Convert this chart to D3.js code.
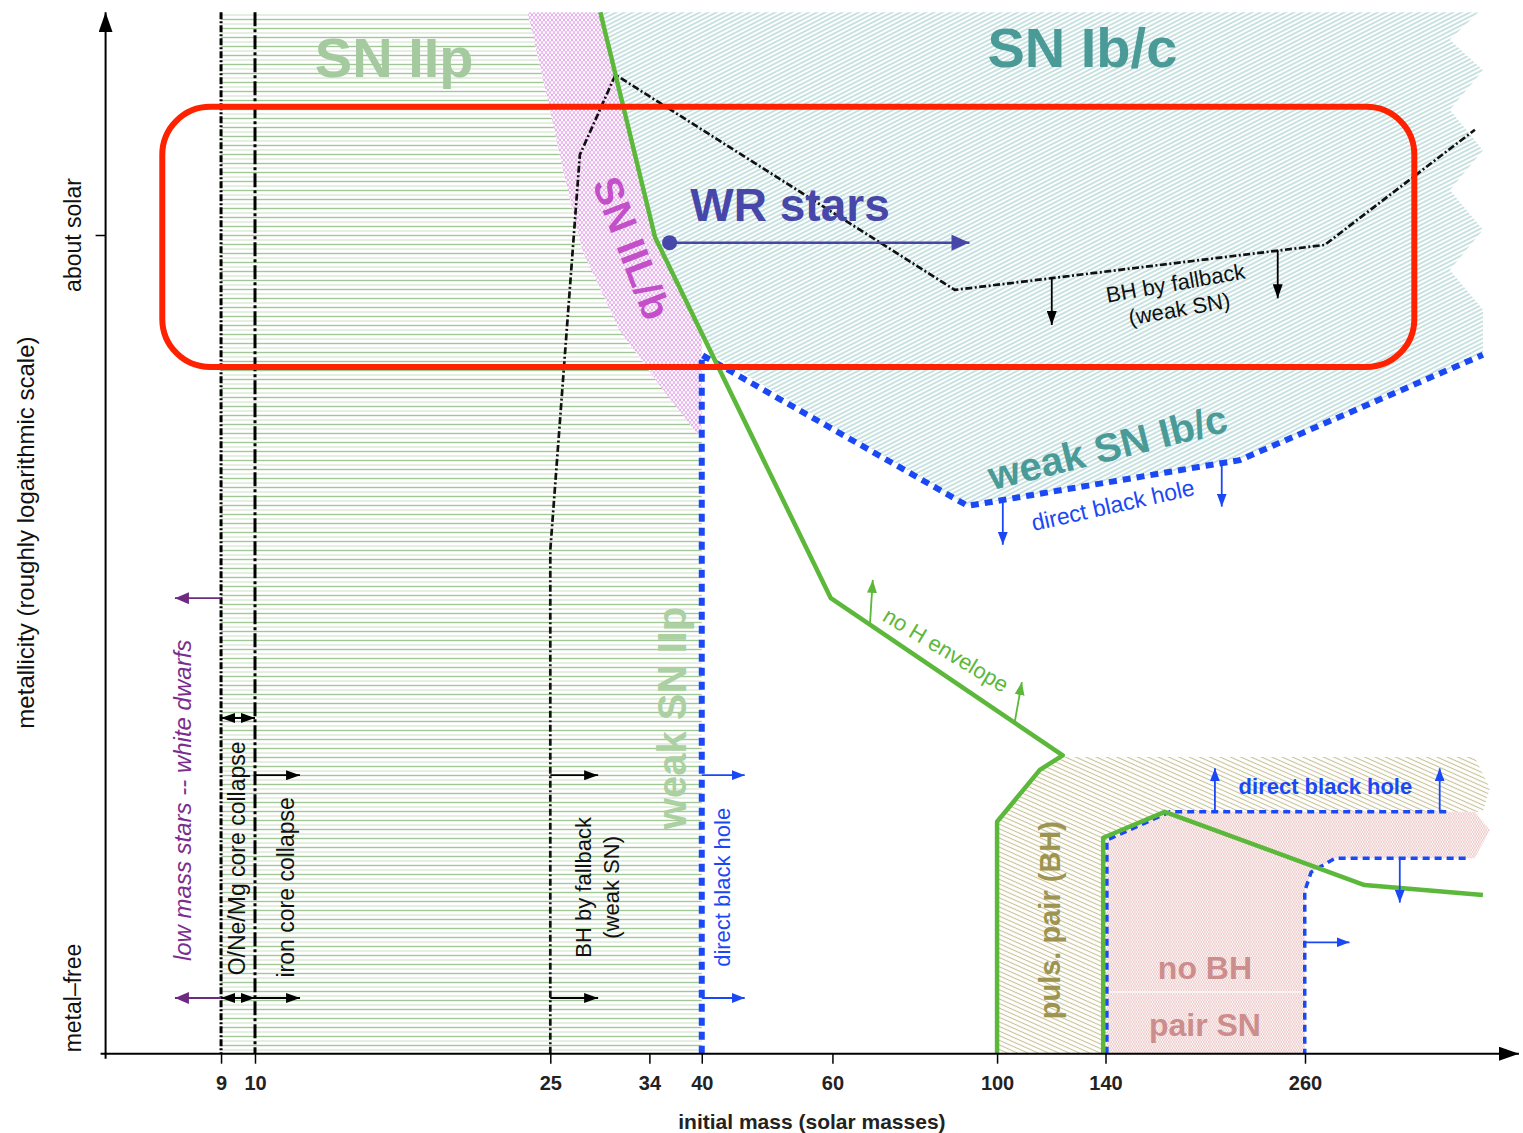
<!DOCTYPE html>
<html>
<head>
<meta charset="utf-8">
<script src="https://cdn.jsdelivr.net/npm/d3@7"></script>
<style>
  body { margin: 0; background: #fff; }
  svg { display: block; font-family: "Liberation Sans", Arial, Helvetica, sans-serif; }
</style>
</head>
<body>
<svg id="chart"></svg>
<script>
const width = 1523, height = 1133;

// x axis: initial mass (solar masses)
const massTicks = [9, 10, 25, 34, 40, 60, 100, 140, 260];
// y axis: metallicity index, 0 = metal-free, 1 = about solar
const metalTicks = [0, 1];
const metalLabels = ["metal\u2013free", "about solar"];
const zTop = 1.292, zAxis = -0.073, massAxis = 6.29, massEnd = 505;

// boundaries, [mass, metallicity]
const coreLines = [9, 10];
const noHEnvelope = [[29.2, 1.292], [34.6, 0.997], [59.7, 0.524], [122.6, 0.318], [114.2, 0.299], [100, 0.231], [100, zAxis]];
const pairLimit = [[139, zAxis], [139, 0.21], [168.3, 0.244], [312.7, 0.148], [451.6, 0.135]];
const fallbackLine = [[25, zAxis], [25, 0.587], [27.4, 1.105], [30.6, 1.21], [87.7, 0.928], [276.4, 0.987], [440.5, 1.138]];
const directBH = [[40, zAxis], [40, 0.843], [91.3, 0.645], [212.3, 0.705], [451.6, 0.843]];
const pairBHtop = [[140.6, zAxis], [140.6, 0.207], [171, 0.244], [407.5, 0.244]];
const pairBHlow = [[428, 0.183], [285.1, 0.183], [265, 0.165], [259.8, 0.14], [259.8, zAxis]];

// regions
const snIIpRegion = [[9, 1.292], [23.3, 1.292], [24.8, 1.177], [26.2, 1.072], [27.6, 0.98], [31.0, 0.875], [35.1, 0.803], [39.4, 0.74], [40, 0.74], [40, zAxis], [9, zAxis]];
const snIILbRegion = [[23.3, 1.292], [29.2, 1.292], [34.6, 0.997], [40, 0.872], [40, 0.74], [39.4, 0.74], [35.1, 0.803], [31.0, 0.875], [27.6, 0.98], [26.2, 1.072], [24.8, 1.177]];
const snIbcRegion = [[29.2, 1.292], [445, 1.292], [407.5, 1.256], [451.6, 1.216], [407.5, 1.164], [451.6, 1.111], [407.5, 1.059], [451.6, 1.007], [407.5, 0.954], [451.6, 0.902], [451.6, 0.843], [212.3, 0.705], [91.3, 0.645], [41.3, 0.843], [34.6, 0.997]];
const pulsPairRegion = [[100, zAxis], [100, 0.231], [114.2, 0.299], [122.6, 0.316], [440, 0.316], [461.5, 0.275], [451.6, 0.244], [171, 0.244], [140.6, 0.207], [140.6, zAxis]];
const pairSNRegion = [[140.6, zAxis], [140.6, 0.207], [171, 0.244], [440, 0.244], [461.5, 0.22], [440, 0.183], [285.1, 0.183], [265, 0.165], [259.8, 0.14], [259.8, zAxis]];

// arrows, [mass1, Z1, mass2, Z2]
const blackArrows = [[10, 0, 11.5, 0], [10, 0.292, 11.5, 0.292], [25, 0, 29, 0], [25, 0.292, 29, 0.292], [118.5, 0.944, 118.5, 0.882], [238.9, 0.98, 238.9, 0.917]];
const doubleArrows = [[9, 0.367, 10, 0.367], [9, 0, 10, 0]];
const purpleArrows = [[9, 0.524, 7.8, 0.524], [9, 0, 7.8, 0]];
const blueArrows = [[40, 0.292, 45.7, 0.292], [40, 0, 45.7, 0], [101.8, 0.653, 101.8, 0.594], [200.8, 0.7, 200.8, 0.644], [196.6, 0.244, 196.6, 0.301], [394.9, 0.244, 394.9, 0.301], [348.9, 0.183, 348.9, 0.125], [259.8, 0.073, 298.5, 0.073]];
const greenArrows = [[67.4, 0.489, 68, 0.548], [105.6, 0.361, 108, 0.414]];
const wrArrow = [[36.2, 0.99, 91.8, 0.99]];
const highlightBox = [7.5, 1.168, 365, 0.827];

const x = d3.scaleLog().domain([10, 260]).range([255, 1305]);
const y = d3.scaleLinear().domain([0, 1]).range([998, 235]);

const svg = d3.select("#chart").attr("width", width).attr("height", height);
const defs = svg.append("defs");

function linePattern(id, size, angle, color, sw) {
  const p = defs.append("pattern").attr("id", id).attr("patternUnits", "userSpaceOnUse")
    .attr("width", 10).attr("height", size).attr("patternTransform", `rotate(${angle})`);
  p.append("line").attr("x1", 0).attr("x2", 10).attr("y1", size / 2).attr("y2", size / 2)
    .attr("stroke", color).attr("stroke-width", sw);
}
function meshPattern(id, w, h, color, sw) {
  const p = defs.append("pattern").attr("id", id).attr("patternUnits", "userSpaceOnUse")
    .attr("width", w).attr("height", h);
  p.append("path").attr("d", `M0,0L${w / 2},${h}L${w},0M0,${h}L${w / 2},0L${w},${h}`)
    .attr("fill", "none").attr("stroke", color).attr("stroke-width", sw);
}
// green horizontal stripes
const gp = defs.append("pattern").attr("id", "green").attr("patternUnits", "userSpaceOnUse")
  .attr("width", 10).attr("height", 9);
gp.append("line").attr("x1", 0).attr("x2", 10).attr("y1", 1.5).attr("y2", 1.5).attr("stroke", "#a2c796").attr("stroke-width", 1.4);
gp.append("line").attr("x1", 0).attr("x2", 10).attr("y1", 6).attr("y2", 6).attr("stroke", "#cfe2c8").attr("stroke-width", 1.1);
linePattern("teal", 3.8, -27, "#9ccbc7", 1.1);
linePattern("olive", 4.2, 24, "#c8c096", 1.1);
meshPattern("pink", 8, 5, "#e3a6e8", 1);
meshPattern("rose", 5, 4, "#e9bcbc", 0.7);

function marker(id, color, len, half) {
  defs.append("marker").attr("id", id).attr("markerUnits", "userSpaceOnUse")
    .attr("viewBox", `0 ${-half} ${len} ${2 * half}`)
    .attr("markerWidth", len).attr("markerHeight", 2 * half)
    .attr("refX", len).attr("refY", 0).attr("orient", "auto-start-reverse")
    .append("path").attr("d", `M0,${-half}L${len},0L0,${half}Z`).attr("fill", color);
}
marker("mBlack", "#000", 14, 5);
marker("mPurple", "#6e2a80", 14, 6);
marker("mBlue", "#1a48f5", 13, 5);
marker("mGreen", "#5cb83a", 13, 5);
marker("mWR", "#4747a9", 18, 8);
marker("mAxis", "#000", 20, 7);

const line = d3.line().x(d => x(d[0])).y(d => y(d[1]));

// regions
[[snIIpRegion, "green"], [snIILbRegion, "pink"], [snIbcRegion, "teal"],
 [pulsPairRegion, "olive"], [pairSNRegion, "rose"]].forEach(([pts, pat]) => {
  svg.append("path").attr("d", line(pts) + "Z").attr("fill", `url(#${pat})`);
});
svg.append("line").attr("x1", x(141.5)).attr("x2", x(258)).attr("y1", y(0.008)).attr("y2", y(0.008))
  .attr("stroke", "#fff").attr("stroke-width", 1.5).attr("opacity", 0.8);

// boundary lines
svg.selectAll(".core").data(coreLines).join("line")
  .attr("x1", d => x(d)).attr("x2", d => x(d)).attr("y1", y(zTop)).attr("y2", y(zAxis))
  .attr("stroke", "#000").attr("stroke-width", 3)
  .attr("stroke-dasharray", (d, i) => i === 0 ? "7,2,2,2" : "14,3,3,3");
svg.append("path").attr("d", line(fallbackLine)).attr("fill", "none")
  .attr("stroke", "#111").attr("stroke-width", 2.7).attr("stroke-dasharray", "7,2.5,2,2.5");
svg.append("path").attr("d", line(directBH)).attr("fill", "none")
  .attr("stroke", "#1a48f5").attr("stroke-width", 6).attr("stroke-dasharray", "8,6");
[pairBHtop, pairBHlow].forEach(pts => {
  svg.append("path").attr("d", line(pts)).attr("fill", "none")
    .attr("stroke", "#1a48f5").attr("stroke-width", 3.5).attr("stroke-dasharray", "7,5");
});
[noHEnvelope, pairLimit].forEach(pts => {
  svg.append("path").attr("d", line(pts)).attr("fill", "none")
    .attr("stroke", "#5cb83a").attr("stroke-width", 4.5).attr("stroke-linejoin", "round");
});

// arrows
function arrows(data, color, mk, sw, both) {
  svg.append("g").selectAll("line").data(data).join("line")
    .attr("x1", d => x(d[0])).attr("y1", d => y(d[1]))
    .attr("x2", d => x(d[2])).attr("y2", d => y(d[3]))
    .attr("stroke", color).attr("stroke-width", sw)
    .attr("marker-end", `url(#${mk})`)
    .attr("marker-start", both ? `url(#${mk})` : null);
}
arrows(blackArrows, "#000", "mBlack", 1.8);
arrows(doubleArrows, "#000", "mBlack", 1.8, true);
arrows(purpleArrows, "#6e2a80", "mPurple", 1.8);
arrows(blueArrows, "#1a48f5", "mBlue", 1.8);
arrows(greenArrows, "#5cb83a", "mGreen", 1.8);
arrows(wrArrow, "#4747a9", "mWR", 2.5);
svg.selectAll(".wrdot").data(wrArrow).join("circle")
  .attr("cx", d => x(d[0])).attr("cy", d => y(d[1])).attr("r", 7.5).attr("fill", "#4747a9");

// labels
function label(txt, m, z, o) {
  svg.append("text")
    .attr("transform", `translate(${x(m)},${y(z)}) rotate(${o.rotate || 0})`)
    .attr("text-anchor", "middle").attr("dominant-baseline", "central")
    .attr("font-size", o.size).attr("font-weight", o.weight || "normal")
    .attr("font-style", o.style || "normal").attr("fill", o.color).text(txt);
}
label("SN IIp", 15.4, 1.232, { size: 56, weight: "bold", color: "#a6caa0" });
label("SN Ib/c", 130.3, 1.246, { size: 56, weight: "bold", color: "#4a9a98" });
label("WR stars", 52.6, 1.039, { size: 46, weight: "bold", color: "#4747a9" });
label("SN IIL/b", 32.2, 0.983, { size: 40, weight: "bold", color: "#c34fc9", rotate: 69 });
label("weak SN IIp", 36.5, 0.367, { size: 40, weight: "bold", color: "#abd0a2", rotate: -90 });
label("weak SN Ib/c", 140.9, 0.722, { size: 40, weight: "bold", color: "#4a9a98", rotate: -14 });
label("direct black hole", 143.2, 0.646, { size: 23, color: "#1a48f5", rotate: -12.6 });
label("direct black hole", 277, 0.277, { size: 22, weight: "bold", color: "#1a48f5" });
label("direct black hole", 42.6, 0.145, { size: 22, color: "#1a48f5", rotate: -90 });
label("BH by fallback", 174, 0.937, { size: 22, color: "#111", rotate: -10 });
label("(weak SN)", 176, 0.903, { size: 22, color: "#111", rotate: -10 });
label("BH by fallback", 27.7, 0.145, { size: 22, color: "#111", rotate: -90 });
label("(weak SN)", 30.2, 0.145, { size: 22, color: "#111", rotate: -90 });
label("O/Ne/Mg core collapse", 9.47, 0.183, { size: 23, color: "#111", rotate: -90 });
label("iron core collapse", 11.0, 0.145, { size: 23, color: "#111", rotate: -90 });
label("low mass stars -- white dwarfs", 7.98, 0.259, { size: 24, style: "italic", color: "#7b2d8e", rotate: -90 });
label("no H envelope", 85.3, 0.456, { size: 22, color: "#5cb83a", rotate: 31 });
label("puls. pair (BH)", 117.8, 0.102, { size: 29, weight: "bold", color: "#9c9450", rotate: -90 });
label("no BH", 190.6, 0.039, { size: 32, weight: "bold", color: "#cc8d8d" });
label("pair SN", 190.6, -0.035, { size: 32, weight: "bold", color: "#cc8d8d" });

// axes
const xAxis = svg.append("g").attr("transform", `translate(0,${y(zAxis)})`)
  .call(d3.axisBottom(x).tickValues(massTicks).tickFormat(d3.format("d")).tickSize(10).tickPadding(12));
xAxis.select(".domain").remove();
xAxis.selectAll(".tick line").attr("stroke", "#000").attr("stroke-width", 1.5);
xAxis.selectAll(".tick text").attr("font-size", 20).attr("font-weight", "bold")
  .attr("fill", "#222").attr("font-family", "Liberation Sans, Arial, sans-serif");
svg.append("line").attr("x1", x(massAxis) - 5).attr("x2", x(massEnd))
  .attr("y1", y(zAxis)).attr("y2", y(zAxis)).attr("stroke", "#000").attr("stroke-width", 2)
  .attr("marker-end", "url(#mAxis)");

const yAxis = svg.append("g").attr("transform", `translate(${x(massAxis)},0)`)
  .call(d3.axisLeft(y).tickValues(metalTicks.filter(d => d > 0)).tickSize(10).tickFormat(""));
yAxis.select(".domain").remove();
yAxis.selectAll(".tick line").attr("stroke", "#000").attr("stroke-width", 1.5);
svg.append("line").attr("x1", x(massAxis)).attr("x2", x(massAxis))
  .attr("y1", y(zAxis) + 5).attr("y2", y(zTop)).attr("stroke", "#000").attr("stroke-width", 2)
  .attr("marker-end", "url(#mAxis)");

svg.selectAll(".zlab").data(metalTicks).join("text")
  .attr("transform", d => `translate(${x(massAxis) - 25},${y(d)}) rotate(-90)`)
  .attr("text-anchor", "middle").attr("font-size", 23).attr("fill", "#111")
  .text((d, i) => metalLabels[i]);

svg.append("text").attr("x", x(56.3)).attr("y", y(zAxis) + 75)
  .attr("text-anchor", "middle").attr("font-size", 21).attr("font-weight", "bold").attr("fill", "#222")
  .text("initial mass (solar masses)");
svg.append("text")
  .attr("transform", `translate(${x(massAxis) - 72},${y(0.61)}) rotate(-90)`)
  .attr("text-anchor", "middle").attr("font-size", 24).attr("fill", "#111")
  .text("metallicity (roughly logarithmic scale)");

// highlight box
svg.append("rect")
  .attr("x", x(highlightBox[0])).attr("y", y(highlightBox[1]))
  .attr("width", x(highlightBox[2]) - x(highlightBox[0]))
  .attr("height", y(highlightBox[3]) - y(highlightBox[1]))
  .attr("rx", 48).attr("fill", "none").attr("stroke", "#ff2200").attr("stroke-width", 6);
</script>
</body>
</html>
